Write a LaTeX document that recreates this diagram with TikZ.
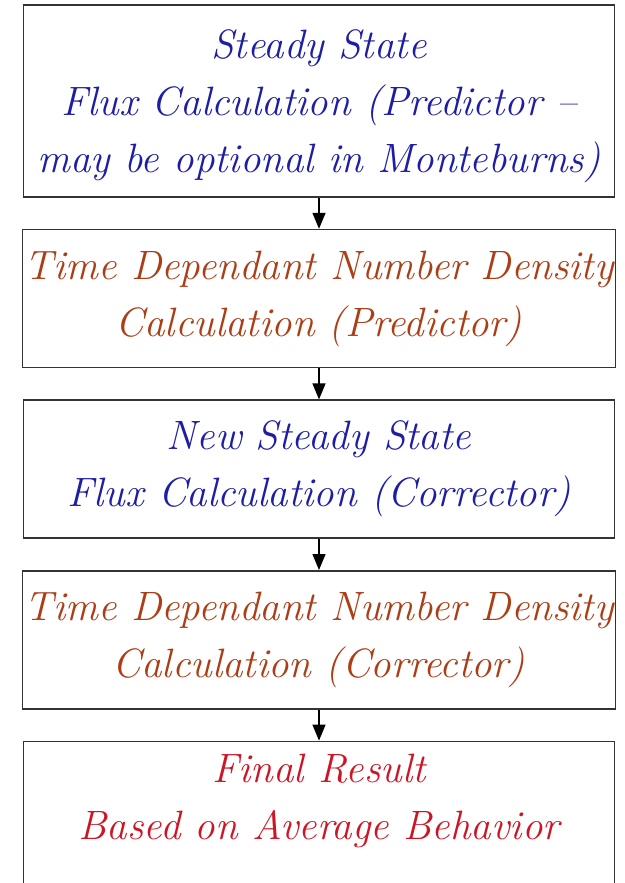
\documentclass[tikz,border=0pt]{standalone}
\usepackage{xcolor}
\definecolor{cb}{HTML}{1E1EA4}
\definecolor{co}{HTML}{AC3E16}
\definecolor{cr}{HTML}{CC1626}
\usetikzlibrary{arrows.meta,positioning}

\begin{document}
\begin{tikzpicture}[
  x=1pt, y=1pt, node distance=31pt, >={Triangle[length=16pt,width=13pt]},
  stage/.style={rectangle, draw=black!80, line width=1.6pt, minimum width=591pt,
    minimum height=138pt, inner xsep=2pt, align=center,
    font=\itshape\fontsize{41}{57}\selectfont},
  flow/.style={->, line width=1.4pt},
]
  \useasboundingbox (0,0) rectangle (624,-883);
  \node[stage, minimum height=192pt, text=cb, text depth=0pt] at (319,-101) (flux1)
    {Steady State\\ Flux Calculation (Predictor --\\ may be optional in Monteburns)};
  \node[stage, text=co, below=of flux1] (dens1)
    {Time Dependant Number Density\\ Calculation (Predictor)};
  \node[stage, text=cb, below=of dens1] (flux2)
    {New Steady State\\ Flux Calculation (Corrector)};
  \node[stage, text=co, below=of flux2] (dens2)
    {Time Dependant Number Density\\ Calculation (Corrector)};
  \node[stage, text=cr, minimum height=152pt, text depth=42pt, below=of dens2] (final)
    {Final Result\\ Based on Average Behavior};

  \draw[flow] (flux1) -- (dens1);
  \draw[flow] (dens1) -- (flux2);
  \draw[flow] (flux2) -- (dens2);
  \draw[flow] (dens2) -- (final);
\end{tikzpicture}
\end{document}
